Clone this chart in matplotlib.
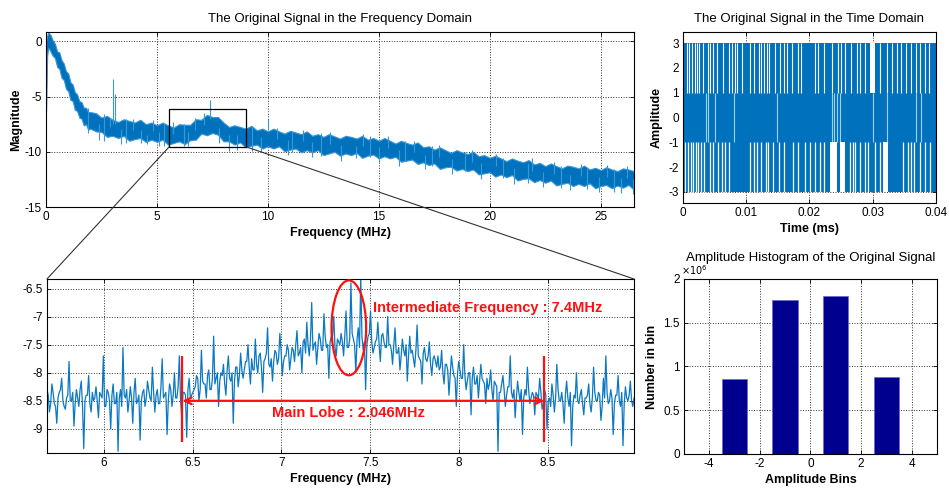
import numpy as np
import matplotlib
matplotlib.use('Agg')
import matplotlib.pyplot as plt
from matplotlib.patches import Rectangle, Ellipse, ConnectionPatch
from matplotlib.ticker import FuncFormatter

plt.rcParams['font.family'] = ['Liberation Sans', 'DejaVu Sans']
plt.rcParams['axes.unicode_minus'] = False

BLUE = '#0072BD'
LIGHT = '#3a97d6'
NAVY = '#00008F'

# ---------------- data ----------------
# Frequency-domain spectrum (envelope of the noisy band), MHz / magnitude
spec_freq_head = [0.0, 0.05, 0.1, 0.15, 0.2, 0.3, 0.4, 0.5, 0.6, 0.7, 0.8, 0.9,
                  1.0, 1.1, 1.2, 1.3, 1.4, 1.5, 1.6, 1.7, 1.8, 1.9, 2.0]
spec_upper_head = [0.0, 0.5, 0.8, 0.7, 0.6, 0.1, -0.2, -0.9, -1.0, -1.7, -2.0, -2.7,
                   -2.9, -3.7, -3.9, -4.6, -4.8, -5.4, -5.5, -6.0, -6.0, -6.4, -6.4]
spec_lower_head = [-6.3, -1.3, -0.6, -0.7, -0.9, -1.3, -1.5, -2.3, -2.5, -3.3, -3.5, -4.3,
                   -4.5, -5.3, -5.4, -6.2, -6.3, -6.9, -7.0, -7.6, -7.5, -8.0, -7.9]
# from 2.25 MHz to 26.5 MHz every 0.25 MHz
spec_upper_tail = [-6.5, -6.9, -6.75, -7.1, -7.3, -7.05, -7.2, -7.35, -7.1, -7.5,
                   -7.35, -7.6, -7.35, -7.6, -7.8, -7.5, -7.55, -7.55, -7.05, -7.1,
                   -6.65, -6.85, -6.85, -7.35, -7.75, -7.6, -7.75, -7.9, -7.65, -8.05,
                   -7.9, -8.15, -7.9, -8.15, -8.35, -8.1, -8.25, -8.4, -8.15, -8.55,
                   -8.4, -8.65, -8.4, -8.6, -8.8, -8.55, -8.65, -8.8, -8.55, -8.9,
                   -8.75, -9.0, -8.75, -9.0, -9.25, -9.0, -9.2, -9.35, -9.15, -9.6,
                   -9.5, -9.8, -9.6, -9.85, -10.1, -9.85, -10.05, -10.2, -10.0, -10.4,
                   -10.3, -10.55, -10.35, -10.6, -10.85, -10.6, -10.8, -10.95, -10.75, -11.15,
                   -11.0, -11.3, -11.05, -11.3, -11.5, -11.25, -11.35, -11.5, -11.25, -11.6,
                   -11.45, -11.65, -11.4, -11.6, -11.75, -11.5, -11.6, -11.75]
spec_lower_tail = [-8.15, -8.2, -8.65, -8.55, -8.75, -8.55, -9.0, -8.85, -8.75, -9.1,
                   -8.9, -9.1, -8.9, -9.35, -9.2, -9.05, -9.3, -8.95, -8.9, -8.35,
                   -8.5, -8.3, -8.45, -9.05, -9.05, -9.35, -9.15, -9.6, -9.45, -9.35,
                   -9.7, -9.5, -9.7, -9.5, -9.95, -9.8, -9.7, -10.05, -9.85, -10.05,
                   -9.85, -10.3, -10.15, -10.0, -10.35, -10.15, -10.3, -10.1, -10.55, -10.35,
                   -10.25, -10.6, -10.4, -10.6, -10.45, -10.9, -10.8, -10.7, -11.1, -10.95,
                   -11.2, -11.05, -11.55, -11.4, -11.35, -11.7, -11.55, -11.75, -11.6, -12.05,
                   -11.95, -11.85, -12.25, -12.05, -12.3, -12.1, -12.6, -12.45, -12.4, -12.75,
                   -12.55, -12.8, -12.6, -13.05, -12.9, -12.8, -13.1, -12.9, -13.1, -12.85,
                   -13.3, -13.1, -13.0, -13.3, -13.05, -13.25, -13.0, -13.45]
# isolated spikes / fringe of the spectrum
spike_freq = [3.0, 3.12, 7.4, 10.0, 8.25, 13.95, 4.55, 26.45, 1.9, 2.6, 3.6, 5.3, 6.2,
              9.3, 11.1, 12.4, 14.6, 16.2, 17.4, 18.9, 20.6, 21.7, 23.2, 24.4, 25.6,
              2.4, 2.9, 3.4, 3.9, 4.3, 4.8, 5.1, 5.7, 6.4, 6.7, 7.1, 7.8, 8.6, 9.0,
              9.7, 10.4, 10.9, 11.6, 12.0, 12.8, 13.3, 14.3, 15.0, 15.4, 15.9, 16.6,
              17.1, 17.7, 18.3, 19.2, 19.6, 20.3, 21.1, 21.9, 22.4, 22.9, 23.6, 24.1,
              24.9, 25.3, 25.9, 26.2]
spike_low = [-7.5, -7.5, -7.0, -8.0, -9.9, -10.6, -9.3, -13.8, -8.3, -9.0, -9.2, -9.5, -9.5,
             -9.9, -10.0, -10.4, -10.5, -10.8, -11.3, -11.7, -12.4, -12.8, -13.3, -13.4, -13.6,
             -8.9, -7.75, -9.3, -8.0, -9.2, -8.15, -9.45, -8.35, -9.5, -8.05, -7.6, -9.2,
             -9.8, -8.55, -10.0, -8.85, -10.3, -9.05, -10.5, -9.3, -10.8, -9.5, -10.9,
             -9.7, -11.3, -10.05, -11.6, -10.5, -12.0, -10.95, -12.5, -11.25, -12.9,
             -11.75, -13.2, -12.0, -13.5, -12.15, -13.6, -12.3, -13.7, -12.35]
spike_high = [-3.4, -4.8, -5.3, -7.0, -8.5, -9.5, -8.5, -12.5, -6.0, -6.6, -7.0, -7.4, -7.5,
              -7.7, -8.1, -8.3, -8.6, -9.0, -9.5, -10.0, -10.6, -11.0, -11.3, -11.5, -11.6,
              -7.45, -6.9, -7.9, -7.0, -8.05, -7.1, -8.2, -7.3, -8.2, -6.9, -6.5, -7.8,
              -8.45, -7.5, -8.7, -7.8, -8.95, -8.0, -9.15, -8.2, -9.35, -8.4, -9.6,
              -8.6, -9.85, -9.0, -10.25, -9.4, -10.65, -9.8, -11.05, -10.2, -11.5,
              -10.6, -11.85, -10.9, -12.1, -11.1, -12.25, -11.2, -12.35, -11.3]

zoom_box = [5.55, 9.02, -9.55, -6.12]   # f0, f1, m0, m1

# Zoomed spectrum around the IF (5.68 - 8.986 MHz): two interleaved sample sets
lobe_mag = [
    -8.3, -8.7, -8.2, -8.55, -8.9, -8.35, -8.1, -8.6, -8.45, -7.8, -8.5, -8.95, -8.3, -8.6, -8.15, -9.35, -8.4, -8.05, -8.7, -8.5,
    -8.25, -8.8, -8.4, -7.7, -8.6, -8.35, -9.0, -8.2, -8.55, -9.4, -8.3, -7.55, -8.45, -8.7, -8.25, -8.9, -8.1, -8.5, -9.2, -8.35,
    -8.6, -8.15, -8.45, -7.9, -8.7, -8.3, -8.55, -7.75, -8.4, -9.1, -8.2, -8.6, -8.0, -8.45, -7.7, -8.8, -8.35, -9.15, -8.1, -8.4,
    -8.3, -8.05, -8.5, -7.6, -8.2, -8.45, -7.95, -8.3, -7.35, -8.1, -8.6, -8.0, -7.85, -8.4, -7.7, -8.15, -8.9, -7.9, -8.25, -7.65,
    -8.1, -7.8, -7.5, -8.2, -7.95, -7.4, -8.0, -7.65, -8.35, -7.75, -7.2, -7.9, -8.15, -7.6, -7.85, -7.3, -8.05, -7.7, -7.5, -7.95,
    -7.55, -7.8, -7.25, -7.65, -8.0, -7.4, -7.1, -7.7, -6.75, -7.5, -7.85, -7.3, -7.6, -6.95, -7.55, -8.1, -7.35, -7.0, -7.7, -7.45,
    -7.3, -7.7, -6.9, -7.55, -6.4, -7.4, -8.0, -7.2, -6.3, -7.6, -8.3, -7.35, -6.9, -7.65, -7.45, -7.1, -7.8, -7.3, -7.55, -7.0,
    -7.5, -7.85, -7.2, -7.65, -7.95, -7.4, -7.7, -8.15, -7.35, -7.6, -7.9, -7.15, -7.75, -8.2, -7.55, -7.8, -7.45, -8.05, -7.7, -7.9,
    -7.95, -7.6, -8.2, -7.85, -8.4, -7.7, -8.05, -8.6, -7.8, -8.1, -7.5, -8.3, -8.0, -8.75, -7.9, -8.2, -8.45, -7.85, -8.15, -8.55,
    -8.3, -7.95, -8.5, -8.2, -9.4, -8.35, -8.05, -8.6, -8.25, -7.7, -8.45, -8.8, -8.15, -8.5, -9.1, -8.3, -7.9, -8.55, -8.35, -8.75,
    -8.4, -8.1, -8.65, -8.3, -9.0, -8.45, -8.2, -8.7, -7.85, -8.5, -8.35, -8.9, -8.15, -8.6, -9.3, -8.4, -8.0, -8.55, -8.3, -8.75,
    -8.45, -8.2, -8.7, -7.9, -8.5, -8.35, -8.85, -8.1, -7.7, -8.55, -8.3, -9.1, -8.4, -8.05, -8.6, -9.3, -8.25, -8.5, -8.15, -8.6]
lobe_mag_b = [
    -8.4, -8.55, -8.35, -8.6, -8.45, -8.3, -8.5, -8.65, -8.4, -8.5, -8.35, -8.55, -8.45, -8.3, -8.6, -8.5, -8.4, -8.55, -8.35, -8.45,
    -8.5, -8.35, -8.45, -8.6, -8.3, -8.5, -8.4, -8.55, -8.35, -8.45, -8.6, -8.4, -8.3, -8.5, -8.45, -8.35, -8.55, -8.4, -8.5, -8.3,
    -8.45, -8.3, -8.5, -8.35, -8.4, -8.55, -8.25, -8.45, -8.35, -8.5, -8.3, -8.4, -8.45, -8.25, -8.5, -8.35, -8.4, -8.3, -8.45, -8.35,
    -8.25, -8.1, -8.3, -8.15, -8.2, -8.05, -8.3, -8.1, -8.2, -8.0, -8.15, -8.05, -8.2, -7.95, -8.1, -8.0, -8.15, -7.9, -8.05, -7.95,
    -7.95, -7.8, -7.9, -7.75, -7.95, -7.85, -7.7, -7.9, -7.8, -7.65, -7.85, -7.75, -7.8, -7.65, -7.75, -7.6, -7.8, -7.7, -7.6, -7.75,
    -7.6, -7.5, -7.7, -7.55, -7.45, -7.65, -7.5, -7.4, -7.6, -7.45, -7.55, -7.4, -7.6, -7.35, -7.5, -7.45, -7.35, -7.55, -7.4, -7.5,
    -7.45, -7.35, -7.55, -7.4, -7.3, -7.5, -7.4, -7.55, -7.35, -7.45, -7.5, -7.3, -7.45, -7.55, -7.4, -7.5, -7.35, -7.45, -7.55, -7.5,
    -7.6, -7.5, -7.65, -7.55, -7.7, -7.6, -7.5, -7.7, -7.65, -7.75, -7.6, -7.7, -7.8, -7.65, -7.75, -7.7, -7.85, -7.75, -7.8, -7.7,
    -7.9, -8.0, -7.85, -7.95, -8.05, -7.9, -8.1, -8.0, -7.95, -8.1, -8.05, -8.15, -8.0, -8.1, -8.2, -8.05, -8.15, -8.1, -8.2, -8.1,
    -8.2, -8.3, -8.15, -8.25, -8.35, -8.2, -8.3, -8.4, -8.25, -8.35, -8.3, -8.45, -8.35, -8.3, -8.45, -8.4, -8.3, -8.45, -8.4, -8.35,
    -8.45, -8.35, -8.55, -8.4, -8.5, -8.6, -8.4, -8.45, -8.3, -8.5, -8.55, -8.4, -8.45, -8.35, -8.6, -8.45, -8.5, -8.4, -8.55, -8.45,
    -8.4, -8.55, -8.45, -8.35, -8.5, -8.4, -8.6, -8.45, -8.35, -8.5, -8.45, -8.55, -8.4, -8.5, -8.35, -8.55, -8.45, -8.4, -8.5, -8.45]
lobe_range = [5.68, 8.986]
lobe_edges = [6.443, 8.48]
lobe_arrow_y = -8.5
lobe_bar_y = [-9.23, -7.70]
if_ellipse = [7.38, -7.2, 0.195, 1.69]   # x, y, width, height

# Time-domain 4-level signal: occupied amplitude span and empty slits (ms)
time_span = [0.0, 0.04]
time_level_min = -3
time_level_max = 3
time_upper_gaps = [0.0006, 0.0010, 0.0014, 0.0019, 0.0022, 0.0025, 0.0031, 0.0040, 0.0043,
                   0.0048, 0.0053, 0.0064, 0.0073, 0.0077, 0.0082, 0.0086, 0.0093, 0.0106,
                   0.0112, 0.0120, 0.0124, 0.0128, 0.0133, 0.0136, 0.0145, 0.0153, 0.0159,
                   0.0165, 0.0172, 0.0182, 0.0186, 0.0209, 0.0214, 0.0223, 0.0235, 0.0245,
                   0.0250, 0.0256, 0.0266, 0.0275, 0.0280, 0.0288, 0.0311, 0.0322, 0.0331,
                   0.0338, 0.0344, 0.0353, 0.0361, 0.0369, 0.0375, 0.0382, 0.0389]
time_middle_gaps = [0.0037, 0.0040, 0.0051, 0.0080, 0.0148, 0.0235, 0.0238, 0.0243,
                    0.0249, 0.0301, 0.0322, 0.0369, 0.0377]
time_lower_gaps = [0.0003, 0.0008, 0.0012, 0.0016, 0.0021, 0.0024, 0.0028, 0.0033, 0.0043,
                   0.0048, 0.0056, 0.0061, 0.0066, 0.0072, 0.0106, 0.0112, 0.0117, 0.0124,
                   0.0131, 0.0135, 0.0143, 0.0151, 0.0159, 0.0174, 0.0182, 0.0193, 0.0201,
                   0.0209, 0.0217, 0.0223, 0.0264, 0.0268, 0.0272, 0.0280, 0.0288, 0.0293,
                   0.0303, 0.0311, 0.0348, 0.0356, 0.0361, 0.0366, 0.0375, 0.0382, 0.0390]
time_upper_wide = [(0.0296, 0.0304)]
time_lower_wide = [(0.0233, 0.0244), (0.0248, 0.0256), (0.0316, 0.0324)]

# Histogram
hist_bins = [-3, -1, 1, 3]
hist_counts = [0.86e6, 1.76e6, 1.81e6, 0.875e6]

# ---------------- figure ----------------
fig = plt.figure(figsize=(9.49, 4.88), dpi=100)
ax1 = fig.add_axes([0.0485, 0.5758, 0.6196, 0.3586])
ax2 = fig.add_axes([0.0495, 0.0717, 0.6186, 0.3566])
ax3 = fig.add_axes([0.7197, 0.5840, 0.2666, 0.3504])
ax4 = fig.add_axes([0.7207, 0.0697, 0.2666, 0.3586])

TICK = 8.5
def style(ax):
    ax.grid(True, linestyle=':', color='#333333', linewidth=0.7)
    ax.set_axisbelow(True)
    ax.tick_params(direction='in', top=True, right=True, labelsize=TICK,
                   length=3, width=0.6, pad=3)
    for s in ax.spines.values():
        s.set_linewidth(0.8)

# --- top-left spectrum
f_all = np.concatenate([np.array(spec_freq_head), np.arange(2.25, 26.51, 0.25)])
up_all = np.array(spec_upper_head + spec_upper_tail)
lo_all = np.array(spec_lower_head + spec_lower_tail)
ax1.fill_between(f_all, lo_all, up_all, color=BLUE, linewidth=0.8, edgecolor=LIGHT)
ax1.vlines(spike_freq, spike_low, spike_high, color=LIGHT, linewidth=0.8)
ax1.set_xlim(0, 26.5)
ax1.set_ylim(-15, 0.85)
ax1.set_xticks([0, 5, 10, 15, 20, 25])
ax1.set_yticks([0, -5, -10, -15])
style(ax1)
ax1.set_title('The Original Signal in the Frequency Domain', fontsize=9.5, pad=7)
ax1.set_xlabel('Frequency (MHz)', fontsize=9, fontweight='bold', labelpad=3)
ax1.set_ylabel('Magnitude', fontsize=9, fontweight='bold', labelpad=2)
ax1.add_patch(Rectangle((zoom_box[0], zoom_box[2]), zoom_box[1] - zoom_box[0],
                        zoom_box[3] - zoom_box[2], fill=False, edgecolor='black',
                        linewidth=0.9, zorder=5))

# --- bottom-left zoom
lobe_all = np.ravel(np.column_stack([lobe_mag, lobe_mag_b]))
fx = np.linspace(lobe_range[0], lobe_range[1], len(lobe_all))
ax2.plot(fx, lobe_all, color='#0a78c2', linewidth=0.9, zorder=2)
ax2.set_xlim(lobe_range)
ax2.set_ylim(-9.43, -6.33)
ax2.set_xticks([6, 6.5, 7, 7.5, 8, 8.5])
ax2.set_xticklabels(['6', '6.5', '7', '7.5', '8', '8.5'])
ax2.set_yticks([-6.5, -7, -7.5, -8, -8.5, -9])
ax2.set_yticklabels(['-6.5', '-7', '-7.5', '-8', '-8.5', '-9'])
style(ax2)
ax2.set_xlabel('Frequency (MHz)', fontsize=9, fontweight='bold', labelpad=3)

RED = '#FF1010'
ax2.add_patch(Ellipse((if_ellipse[0], if_ellipse[1]), if_ellipse[2], if_ellipse[3],
                      fill=False, edgecolor=RED, linewidth=1.6, zorder=6))
ax2.text(7.515, -6.85, 'Intermediate Frequency : 7.4MHz', color=RED, fontsize=10.5,
         fontweight='bold', ha='left', va='center', zorder=7)
ax2.vlines(lobe_edges, lobe_bar_y[0], lobe_bar_y[1], color=RED, linewidth=1.6, zorder=6)
ax2.annotate('', xy=(lobe_edges[0], lobe_arrow_y), xytext=(lobe_edges[1], lobe_arrow_y),
             arrowprops=dict(arrowstyle='<->', color=RED, lw=1.6, shrinkA=0, shrinkB=0,
                             mutation_scale=12), zorder=6)
ax2.text(7.375, -8.72, 'Main Lobe : 2.046MHz', color=RED, fontsize=10.5,
         fontweight='bold', ha='center', va='center', zorder=7)

# connection lines
for xa, xb in [(zoom_box[0], 0.0), (zoom_box[1], 1.0)]:
    con = ConnectionPatch(xyA=(xa, zoom_box[2]), coordsA=ax1.transData,
                          xyB=(xb, 1.0), coordsB=ax2.transAxes,
                          color='#333333', linewidth=0.8)
    fig.add_artist(con)

# --- top-right time domain
ax3.fill_between(time_span, [time_level_min] * 2, [time_level_max] * 2,
                 color=BLUE, linewidth=0, zorder=2)
ax3.vlines(time_upper_gaps, 1, 3.02, color='white', linewidth=0.8, zorder=3)
ax3.vlines(time_middle_gaps, -1, 1, color='#9fd0f0', linewidth=0.8, zorder=3)
ax3.vlines(time_lower_gaps, -3.02, -1, color='white', linewidth=0.9, zorder=3)
for a, b in time_upper_wide:
    ax3.fill_between([a, b], [1, 1], [3.02, 3.02], color='white', linewidth=0, zorder=3)
for a, b in time_lower_wide:
    ax3.fill_between([a, b], [-3.02, -3.02], [-1, -1], color='white', linewidth=0, zorder=3)
ax3.set_xlim(0, 0.04)
ax3.set_ylim(-3.45, 3.45)
ax3.set_xticks([0, 0.01, 0.02, 0.03, 0.04])
ax3.set_xticklabels(['0', '0.01', '0.02', '0.03', '0.04'])
ax3.set_yticks([-3, -2, -1, 0, 1, 2, 3])
style(ax3)
ax3.set_title('The Original Signal in the Time Domain', fontsize=9.5, pad=7)
ax3.set_xlabel('Time (ms)', fontsize=9, fontweight='bold', labelpad=3)
ax3.set_ylabel('Amplitude', fontsize=9, fontweight='bold', labelpad=4)

# --- bottom-right histogram
ax4.bar(hist_bins, hist_counts, width=1.0, color=NAVY, edgecolor='#6a6ad0', linewidth=0.5)
ax4.set_xlim(-5, 5)
ax4.set_ylim(0, 2e6)
ax4.set_xticks([-4, -2, 0, 2, 4])
ax4.set_yticks([0, 0.5e6, 1e6, 1.5e6, 2e6])
ax4.yaxis.set_major_formatter(FuncFormatter(lambda v, p: f'{v/1e6:g}'))
style(ax4)
ax4.text(-0.01, 1.01, r'$\times 10^{6}$', transform=ax4.transAxes, fontsize=7,
         ha='left', va='bottom')
ax4.set_title('Amplitude Histogram of the Original Signal', fontsize=9.5, pad=13)
ax4.set_xlabel('Amplitude Bins', fontsize=9, fontweight='bold', labelpad=3)
ax4.set_ylabel('Number in bin', fontsize=9, fontweight='bold', labelpad=4)

fig.savefig('out.png', dpi=100)
